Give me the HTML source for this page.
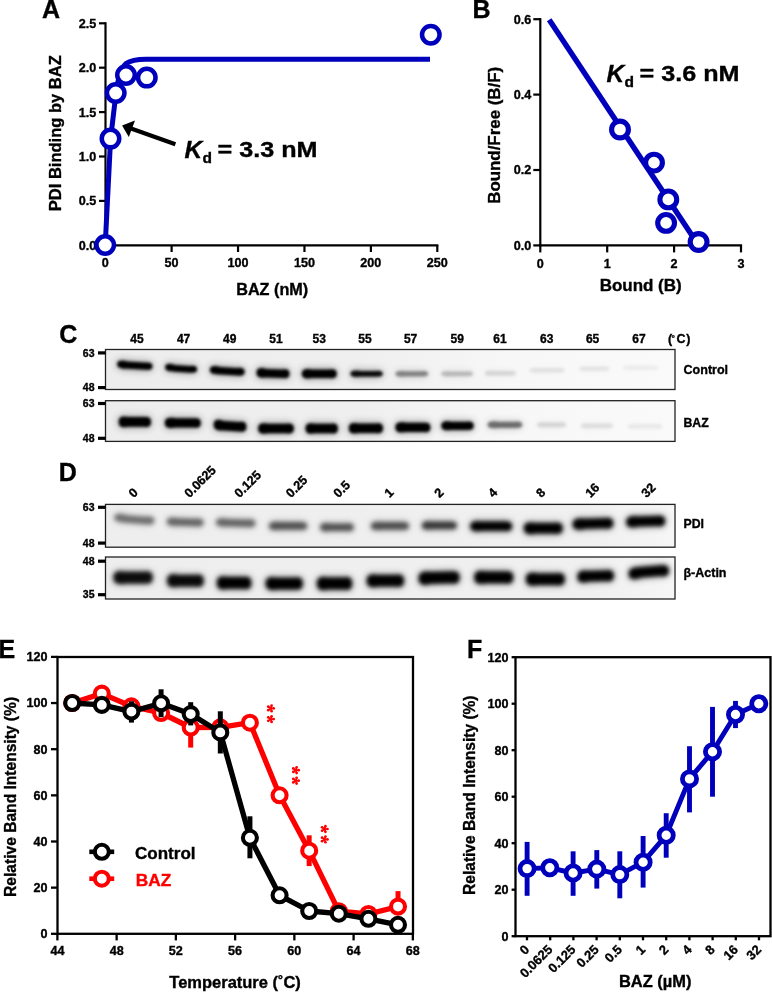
<!DOCTYPE html>
<html><head><meta charset="utf-8"><title>Figure</title>
<style>
html,body{margin:0;padding:0;background:#fff;}
svg{display:block;filter:blur(0.35px);font-family:"Liberation Sans", sans-serif;font-weight:bold;}
text{stroke:#000;stroke-width:0.35px;}
</style></head>
<body>
<svg width="772" height="992" viewBox="0 0 772 992">
<defs>
<filter id="b1" x="-20%" y="-50%" width="140%" height="200%"><feGaussianBlur stdDeviation="1.5"/></filter>
<filter id="b2" x="-20%" y="-60%" width="140%" height="220%"><feGaussianBlur stdDeviation="2.3"/></filter>
<filter id="b3" x="-30%" y="-150%" width="160%" height="400%"><feGaussianBlur stdDeviation="4"/></filter>
<linearGradient id="bgc" x1="0" y1="0" x2="1" y2="0"><stop offset="0" stop-color="#ededed"/><stop offset="0.45" stop-color="#efefef"/><stop offset="0.7" stop-color="#f7f7f7"/><stop offset="1" stop-color="#fafafa"/></linearGradient>
<linearGradient id="bgd" x1="0" y1="0" x2="1" y2="0"><stop offset="0" stop-color="#eeeeee"/><stop offset="0.85" stop-color="#f0f0f0"/><stop offset="1" stop-color="#f6f6f6"/></linearGradient>
</defs>
<rect width="772" height="992" fill="#fff"/>
<text x="42" y="17.6" font-size="25">A</text>
<line x1="105.5" y1="22.2" x2="105.5" y2="246.4" stroke="#000" stroke-width="2.2" stroke-linecap="butt"/>
<line x1="99" y1="245.3" x2="105.5" y2="245.3" stroke="#000" stroke-width="2.2" stroke-linecap="butt"/>
<text x="96.2" y="249.70000000000002" font-size="12.6" text-anchor="end">0.0</text>
<line x1="99" y1="200.9" x2="105.5" y2="200.9" stroke="#000" stroke-width="2.2" stroke-linecap="butt"/>
<text x="96.2" y="205.3" font-size="12.6" text-anchor="end">0.5</text>
<line x1="99" y1="156.5" x2="105.5" y2="156.5" stroke="#000" stroke-width="2.2" stroke-linecap="butt"/>
<text x="96.2" y="160.9" font-size="12.6" text-anchor="end">1.0</text>
<line x1="99" y1="112.10000000000002" x2="105.5" y2="112.10000000000002" stroke="#000" stroke-width="2.2" stroke-linecap="butt"/>
<text x="96.2" y="116.50000000000003" font-size="12.6" text-anchor="end">1.5</text>
<line x1="99" y1="67.70000000000002" x2="105.5" y2="67.70000000000002" stroke="#000" stroke-width="2.2" stroke-linecap="butt"/>
<text x="96.2" y="72.10000000000002" font-size="12.6" text-anchor="end">2.0</text>
<line x1="99" y1="23.30000000000001" x2="105.5" y2="23.30000000000001" stroke="#000" stroke-width="2.2" stroke-linecap="butt"/>
<text x="96.2" y="27.70000000000001" font-size="12.6" text-anchor="end">2.5</text>
<line x1="104.4" y1="245.3" x2="438.4" y2="245.3" stroke="#000" stroke-width="2.2" stroke-linecap="butt"/>
<line x1="105.2" y1="245.3" x2="105.2" y2="252" stroke="#000" stroke-width="2.2" stroke-linecap="butt"/>
<text x="105.2" y="266.6" font-size="12.6" text-anchor="middle">0</text>
<line x1="171.62" y1="245.3" x2="171.62" y2="252" stroke="#000" stroke-width="2.2" stroke-linecap="butt"/>
<text x="171.62" y="266.6" font-size="12.6" text-anchor="middle">50</text>
<line x1="238.04000000000002" y1="245.3" x2="238.04000000000002" y2="252" stroke="#000" stroke-width="2.2" stroke-linecap="butt"/>
<text x="238.04000000000002" y="266.6" font-size="12.6" text-anchor="middle">100</text>
<line x1="304.46" y1="245.3" x2="304.46" y2="252" stroke="#000" stroke-width="2.2" stroke-linecap="butt"/>
<text x="304.46" y="266.6" font-size="12.6" text-anchor="middle">150</text>
<line x1="370.88" y1="245.3" x2="370.88" y2="252" stroke="#000" stroke-width="2.2" stroke-linecap="butt"/>
<text x="370.88" y="266.6" font-size="12.6" text-anchor="middle">200</text>
<line x1="437.3" y1="245.3" x2="437.3" y2="252" stroke="#000" stroke-width="2.2" stroke-linecap="butt"/>
<text x="437.3" y="266.6" font-size="12.6" text-anchor="middle">250</text>
<text x="272.2" y="295.3" font-size="16" text-anchor="middle" textLength="72" lengthAdjust="spacingAndGlyphs">BAZ (nM)</text>
<text x="0" y="0" font-size="16" text-anchor="middle" textLength="156" lengthAdjust="spacingAndGlyphs" transform="translate(61.3,133.2) rotate(-90)">PDI Binding by BAZ</text>
<path d="M105.2,245.3 L110.6,138.6 L116,93 Q119,70 126,63.5 Q132,59.2 146,59.2 L430,59.2" fill="none" stroke="#0000bc" stroke-width="5" stroke-linejoin="round"/>
<circle cx="105.2" cy="245" r="8.75" fill="#fff" stroke="#0000bc" stroke-width="4.5"/>
<circle cx="110.5" cy="138.6" r="8.75" fill="#fff" stroke="#0000bc" stroke-width="4.5"/>
<circle cx="115.7" cy="93" r="8.75" fill="#fff" stroke="#0000bc" stroke-width="4.5"/>
<circle cx="126" cy="75" r="8.75" fill="#fff" stroke="#0000bc" stroke-width="4.5"/>
<circle cx="146.8" cy="77.6" r="8.75" fill="#fff" stroke="#0000bc" stroke-width="4.5"/>
<circle cx="430.8" cy="34.7" r="8.75" fill="#fff" stroke="#0000bc" stroke-width="4.5"/>
<line x1="175.4" y1="144.2" x2="131" y2="128.4" stroke="#000" stroke-width="4.2" stroke-linecap="butt"/>
<polygon points="122.1,125.5 135,120.4 128.8,136.9" fill="#000"/>
<text x="184.5" y="158.4" font-size="24.5" font-style="italic">K</text>
<text x="202.5" y="163.20000000000002" font-size="15.5">d</text>
<text x="217.5" y="157.4" font-size="22.5" textLength="100" lengthAdjust="spacingAndGlyphs">= 3.3 nM</text>
<text x="472.5" y="17.9" font-size="25">B</text>
<line x1="540.3" y1="18.1" x2="540.3" y2="246.5" stroke="#000" stroke-width="2.2" stroke-linecap="butt"/>
<line x1="533.3" y1="245.4" x2="540.3" y2="245.4" stroke="#000" stroke-width="2.2" stroke-linecap="butt"/>
<text x="531.3" y="249.8" font-size="12.6" text-anchor="end">0.0</text>
<line x1="533.3" y1="170.0" x2="540.3" y2="170.0" stroke="#000" stroke-width="2.2" stroke-linecap="butt"/>
<text x="531.3" y="174.4" font-size="12.6" text-anchor="end">0.2</text>
<line x1="533.3" y1="94.6" x2="540.3" y2="94.6" stroke="#000" stroke-width="2.2" stroke-linecap="butt"/>
<text x="531.3" y="99.0" font-size="12.6" text-anchor="end">0.4</text>
<line x1="533.3" y1="19.19999999999999" x2="540.3" y2="19.19999999999999" stroke="#000" stroke-width="2.2" stroke-linecap="butt"/>
<text x="531.3" y="23.599999999999987" font-size="12.6" text-anchor="end">0.6</text>
<line x1="539.2" y1="245.4" x2="742.1" y2="245.4" stroke="#000" stroke-width="2.2" stroke-linecap="butt"/>
<line x1="540.3" y1="245.4" x2="540.3" y2="252.4" stroke="#000" stroke-width="2.2" stroke-linecap="butt"/>
<text x="540.3" y="267.5" font-size="12.6" text-anchor="middle">0</text>
<line x1="607.1999999999999" y1="245.4" x2="607.1999999999999" y2="252.4" stroke="#000" stroke-width="2.2" stroke-linecap="butt"/>
<text x="607.1999999999999" y="267.5" font-size="12.6" text-anchor="middle">1</text>
<line x1="674.0999999999999" y1="245.4" x2="674.0999999999999" y2="252.4" stroke="#000" stroke-width="2.2" stroke-linecap="butt"/>
<text x="674.0999999999999" y="267.5" font-size="12.6" text-anchor="middle">2</text>
<line x1="741.0" y1="245.4" x2="741.0" y2="252.4" stroke="#000" stroke-width="2.2" stroke-linecap="butt"/>
<text x="741.0" y="267.5" font-size="12.6" text-anchor="middle">3</text>
<text x="640.7" y="291.4" font-size="16" text-anchor="middle" textLength="82" lengthAdjust="spacingAndGlyphs">Bound (B)</text>
<text x="0" y="0" font-size="16" text-anchor="middle" textLength="137" lengthAdjust="spacingAndGlyphs" transform="translate(499.5,135.3) rotate(-90)">Bound/Free (B/F)</text>
<line x1="549.2" y1="19.8" x2="697" y2="243" stroke="#0000bc" stroke-width="5.4" stroke-linecap="butt"/>
<circle cx="620" cy="129.5" r="8.4" fill="#fff" stroke="#0000bc" stroke-width="5.1"/>
<circle cx="654" cy="162.6" r="8.4" fill="#fff" stroke="#0000bc" stroke-width="5.1"/>
<circle cx="668.3" cy="199.4" r="8.4" fill="#fff" stroke="#0000bc" stroke-width="5.1"/>
<circle cx="666.1" cy="222.9" r="8.4" fill="#fff" stroke="#0000bc" stroke-width="5.1"/>
<circle cx="698.6" cy="242" r="8.4" fill="#fff" stroke="#0000bc" stroke-width="5.1"/>
<text x="606.5" y="81.7" font-size="24.5" font-style="italic">K</text>
<text x="624.5" y="86.5" font-size="15.5">d</text>
<text x="639.5" y="80.7" font-size="22.5" textLength="100" lengthAdjust="spacingAndGlyphs">= 3.6 nM</text>
<g>
<text x="59.2" y="342.6" font-size="25">C</text>
<text x="136.9" y="342.5" font-size="12" text-anchor="middle">45</text>
<text x="183.6" y="342.5" font-size="12" text-anchor="middle">47</text>
<text x="229.8" y="342.5" font-size="12" text-anchor="middle">49</text>
<text x="276" y="342.5" font-size="12" text-anchor="middle">51</text>
<text x="319.2" y="342.5" font-size="12" text-anchor="middle">53</text>
<text x="364.9" y="342.5" font-size="12" text-anchor="middle">55</text>
<text x="410.6" y="342.5" font-size="12" text-anchor="middle">57</text>
<text x="457.3" y="342.5" font-size="12" text-anchor="middle">59</text>
<text x="499.9" y="342.5" font-size="12" text-anchor="middle">61</text>
<text x="546.7" y="342.5" font-size="12" text-anchor="middle">63</text>
<text x="592.6" y="342.5" font-size="12" text-anchor="middle">65</text>
<text x="639" y="342.5" font-size="12" text-anchor="middle">67</text>
<text y="342.8" font-size="12.5"><tspan x="667.9">(</tspan><tspan x="671.6" font-size="8.5" dy="-2.2">°</tspan><tspan x="676.4" dy="2.2">C</tspan><tspan x="686.3">)</tspan></text>
<rect x="105.5" y="349.5" width="569.5" height="40.0" fill="url(#bgc)" stroke="#222" stroke-width="1.3"/>
<rect x="105.5" y="400.7" width="569.5" height="40.69999999999999" fill="url(#bgc)" stroke="#222" stroke-width="1.3"/>
<rect x="98" y="351.29999999999995" width="7.5" height="3.2" fill="#000"/>
<text x="94.5" y="356.5" font-size="10.5" text-anchor="end">63</text>
<rect x="98" y="386.0" width="7.5" height="3.2" fill="#000"/>
<text x="94.5" y="391.20000000000005" font-size="10.5" text-anchor="end">48</text>
<rect x="98" y="401.9" width="7.5" height="3.2" fill="#000"/>
<text x="94.5" y="407.1" font-size="10.5" text-anchor="end">63</text>
<rect x="98" y="436.7" width="7.5" height="3.2" fill="#000"/>
<text x="94.5" y="441.90000000000003" font-size="10.5" text-anchor="end">48</text>
<text x="683.5" y="373.9" font-size="12.5" textLength="44.6" lengthAdjust="spacingAndGlyphs">Control</text>
<text x="683.5" y="427" font-size="12.5" textLength="25.2" lengthAdjust="spacingAndGlyphs">BAZ</text>
<path d="M117.1,364.2 C117.1,359.8 122.4,359.8 127.7,361.6 L144.7,362.6 C150.0,362.1 152.5,362.9 152.5,366.2 C152.5,369.5 150.0,370.3 144.7,369.8 L127.7,368.8 C122.4,368.6 117.1,368.6 117.1,364.2 Z" fill="#000" opacity="0.450" filter="url(#b3)"/>
<path d="M117.1,364.2 C117.1,359.8 122.4,359.8 127.7,361.6 L144.7,362.6 C150.0,362.1 152.5,362.9 152.5,366.2 C152.5,369.5 150.0,370.3 144.7,369.8 L127.7,368.8 C122.4,368.6 117.1,368.6 117.1,364.2 Z" fill="#000" opacity="1.000" filter="url(#b1)"/>
<path d="M165.1,367.3 C165.1,363.2 169.9,363.2 174.7,364.9 L190.1,365.9 C194.9,365.4 197.1,366.2 197.1,369.3 C197.1,372.4 194.9,373.2 190.1,372.7 L174.7,371.7 C169.9,371.4 165.1,371.4 165.1,367.3 Z" fill="#000" opacity="0.450" filter="url(#b3)"/>
<path d="M165.1,367.3 C165.1,363.2 169.9,363.2 174.7,364.9 L190.1,365.9 C194.9,365.4 197.1,366.2 197.1,369.3 C197.1,372.4 194.9,373.2 190.1,372.7 L174.7,371.7 C169.9,371.4 165.1,371.4 165.1,367.3 Z" fill="#000" opacity="1.000" filter="url(#b1)"/>
<path d="M209.8,369.8 C209.8,365.2 215.0,365.2 220.3,367.0 L237.0,368.0 C242.3,367.4 244.7,368.3 244.7,371.8 C244.7,375.3 242.3,376.2 237.0,375.6 L220.3,374.6 C215.0,374.4 209.8,374.4 209.8,369.8 Z" fill="#000" opacity="0.450" filter="url(#b3)"/>
<path d="M209.8,369.8 C209.8,365.2 215.0,365.2 220.3,367.0 L237.0,368.0 C242.3,367.4 244.7,368.3 244.7,371.8 C244.7,375.3 242.3,376.2 237.0,375.6 L220.3,374.6 C215.0,374.4 209.8,374.4 209.8,369.8 Z" fill="#000" opacity="1.000" filter="url(#b1)"/>
<path d="M256.5,372.7 C256.5,367.5 261.4,367.5 266.4,368.9 L282.2,369.4 C287.2,368.8 289.5,369.7 289.5,373.7 C289.5,377.7 287.2,378.6 282.2,378.0 L266.4,377.5 C261.4,377.9 256.5,377.9 256.5,372.7 Z" fill="#000" opacity="0.450" filter="url(#b3)"/>
<path d="M256.5,372.7 C256.5,367.5 261.4,367.5 266.4,368.9 L282.2,369.4 C287.2,368.8 289.5,369.7 289.5,373.7 C289.5,377.7 287.2,378.6 282.2,378.0 L266.4,377.5 C261.4,377.9 256.5,377.9 256.5,372.7 Z" fill="#000" opacity="1.000" filter="url(#b1)"/>
<path d="M301.8,373.8 C301.8,368.6 307.1,368.6 312.3,369.5 L329.1,369.5 C334.4,368.9 336.8,369.8 336.8,373.8 C336.8,377.8 334.4,378.8 329.1,378.1 L312.3,378.1 C307.1,379.0 301.8,379.0 301.8,373.8 Z" fill="#000" opacity="0.450" filter="url(#b3)"/>
<path d="M301.8,373.8 C301.8,368.6 307.1,368.6 312.3,369.5 L329.1,369.5 C334.4,368.9 336.8,369.8 336.8,373.8 C336.8,377.8 334.4,378.8 329.1,378.1 L312.3,378.1 C307.1,379.0 301.8,379.0 301.8,373.8 Z" fill="#000" opacity="1.000" filter="url(#b1)"/>
<path d="M350.4,373.8 C350.4,370.3 355.3,370.3 360.1,370.9 L375.7,370.9 C380.5,370.5 382.8,371.2 382.8,373.8 C382.8,376.4 380.5,377.1 375.7,376.7 L360.1,376.7 C355.3,377.3 350.4,377.3 350.4,373.8 Z" fill="#000" opacity="0.427" filter="url(#b3)"/>
<path d="M350.4,373.8 C350.4,370.3 355.3,370.3 360.1,370.9 L375.7,370.9 C380.5,370.5 382.8,371.2 382.8,373.8 C382.8,376.4 380.5,377.1 375.7,376.7 L360.1,376.7 C355.3,377.3 350.4,377.3 350.4,373.8 Z" fill="#000" opacity="0.950" filter="url(#b1)"/>
<path d="M395.5,373.8 C395.5,370.6 400.4,370.6 405.3,371.2 L421.0,371.2 C425.9,370.8 428.2,371.4 428.2,373.8 C428.2,376.2 425.9,376.8 421.0,376.4 L405.3,376.4 C400.4,377.0 395.5,377.0 395.5,373.8 Z" fill="#000" opacity="0.189" filter="url(#b3)"/>
<path d="M395.5,373.8 C395.5,370.6 400.4,370.6 405.3,371.2 L421.0,371.2 C425.9,370.8 428.2,371.4 428.2,373.8 C428.2,376.2 425.9,376.8 421.0,376.4 L405.3,376.4 C400.4,377.0 395.5,377.0 395.5,373.8 Z" fill="#000" opacity="0.420" filter="url(#b1)"/>
<path d="M441.2,373.8 C441.2,370.9 446.0,370.9 450.7,371.4 L465.9,371.4 C470.7,371.1 472.9,371.6 472.9,373.8 C472.9,376.0 470.7,376.6 465.9,376.2 L450.7,376.2 C446.0,376.7 441.2,376.7 441.2,373.8 Z" fill="#000" opacity="0.099" filter="url(#b3)"/>
<path d="M441.2,373.8 C441.2,370.9 446.0,370.9 450.7,371.4 L465.9,371.4 C470.7,371.1 472.9,371.6 472.9,373.8 C472.9,376.0 470.7,376.6 465.9,376.2 L450.7,376.2 C446.0,376.7 441.2,376.7 441.2,373.8 Z" fill="#000" opacity="0.220" filter="url(#b1)"/>
<path d="M484.9,373.2 C484.9,370.6 489.6,370.6 494.2,371.0 L509.2,371.0 C513.8,370.7 516.0,371.2 516.0,373.2 C516.0,375.2 513.8,375.7 509.2,375.4 L494.2,375.4 C489.6,375.8 484.9,375.8 484.9,373.2 Z" fill="#000" opacity="0.054" filter="url(#b3)"/>
<path d="M484.9,373.2 C484.9,370.6 489.6,370.6 494.2,371.0 L509.2,371.0 C513.8,370.7 516.0,371.2 516.0,373.2 C516.0,375.2 513.8,375.7 509.2,375.4 L494.2,375.4 C489.6,375.8 484.9,375.8 484.9,373.2 Z" fill="#000" opacity="0.120" filter="url(#b1)"/>
<path d="M529.3,370.3 C529.3,367.7 534.6,367.7 539.9,368.1 L556.8,368.1 C562.1,367.8 564.6,368.3 564.6,370.3 C564.6,372.3 562.1,372.8 556.8,372.5 L539.9,372.5 C534.6,372.9 529.3,372.9 529.3,370.3 Z" fill="#000" opacity="0.036" filter="url(#b3)"/>
<path d="M529.3,370.3 C529.3,367.7 534.6,367.7 539.9,368.1 L556.8,368.1 C562.1,367.8 564.6,368.3 564.6,370.3 C564.6,372.3 562.1,372.8 556.8,372.5 L539.9,372.5 C534.6,372.9 529.3,372.9 529.3,370.3 Z" fill="#000" opacity="0.080" filter="url(#b1)"/>
<path d="M579.0,368.8 C579.0,366.2 583.6,366.2 588.1,366.6 L602.8,366.6 C607.4,366.3 609.5,366.8 609.5,368.8 C609.5,370.8 607.4,371.3 602.8,371.0 L588.1,371.0 C583.6,371.4 579.0,371.4 579.0,368.8 Z" fill="#000" opacity="0.032" filter="url(#b3)"/>
<path d="M579.0,368.8 C579.0,366.2 583.6,366.2 588.1,366.6 L602.8,366.6 C607.4,366.3 609.5,366.8 609.5,368.8 C609.5,370.8 607.4,371.3 602.8,371.0 L588.1,371.0 C583.6,371.4 579.0,371.4 579.0,368.8 Z" fill="#000" opacity="0.070" filter="url(#b1)"/>
<path d="M622.6,367.8 C622.6,365.2 628.0,365.2 633.5,365.6 L650.9,365.6 C656.4,365.3 658.9,365.8 658.9,367.8 C658.9,369.8 656.4,370.3 650.9,370.0 L633.5,370.0 C628.0,370.4 622.6,370.4 622.6,367.8 Z" fill="#000" opacity="0.020" filter="url(#b3)"/>
<path d="M622.6,367.8 C622.6,365.2 628.0,365.2 633.5,365.6 L650.9,365.6 C656.4,365.3 658.9,365.8 658.9,367.8 C658.9,369.8 656.4,370.3 650.9,370.0 L633.5,370.0 C628.0,370.4 622.6,370.4 622.6,367.8 Z" fill="#000" opacity="0.045" filter="url(#b1)"/>
<path d="M118.7,421.9 C118.7,416.1 123.5,416.1 128.4,417.1 L143.9,417.1 C148.7,416.4 151.0,417.5 151.0,421.9 C151.0,426.3 148.7,427.4 143.9,426.7 L128.4,426.7 C123.5,427.7 118.7,427.7 118.7,421.9 Z" fill="#000" opacity="0.450" filter="url(#b3)"/>
<path d="M118.7,421.9 C118.7,416.1 123.5,416.1 128.4,417.1 L143.9,417.1 C148.7,416.4 151.0,417.5 151.0,421.9 C151.0,426.3 148.7,427.4 143.9,426.7 L128.4,426.7 C123.5,427.7 118.7,427.7 118.7,421.9 Z" fill="#000" opacity="1.000" filter="url(#b1)"/>
<path d="M164.8,422.9 C164.8,417.4 170.2,417.4 175.6,418.3 L192.9,418.3 C198.3,417.7 200.8,418.7 200.8,422.9 C200.8,427.1 198.3,428.1 192.9,427.5 L175.6,427.5 C170.2,428.4 164.8,428.4 164.8,422.9 Z" fill="#000" opacity="0.450" filter="url(#b3)"/>
<path d="M164.8,422.9 C164.8,417.4 170.2,417.4 175.6,418.3 L192.9,418.3 C198.3,417.7 200.8,418.7 200.8,422.9 C200.8,427.1 198.3,428.1 192.9,427.5 L175.6,427.5 C170.2,428.4 164.8,428.4 164.8,422.9 Z" fill="#000" opacity="1.000" filter="url(#b1)"/>
<path d="M213.7,424.8 C213.7,419.0 218.6,419.0 223.5,421.0 L239.2,422.0 C244.1,421.3 246.4,422.4 246.4,426.8 C246.4,431.2 244.1,432.3 239.2,431.6 L223.5,430.6 C218.6,430.6 213.7,430.6 213.7,424.8 Z" fill="#000" opacity="0.450" filter="url(#b3)"/>
<path d="M213.7,424.8 C213.7,419.0 218.6,419.0 223.5,421.0 L239.2,422.0 C244.1,421.3 246.4,422.4 246.4,426.8 C246.4,431.2 244.1,432.3 239.2,431.6 L223.5,430.6 C218.6,430.6 213.7,430.6 213.7,424.8 Z" fill="#000" opacity="1.000" filter="url(#b1)"/>
<path d="M258.1,428.5 C258.1,422.7 263.5,422.7 268.8,423.7 L286.0,423.7 C291.4,423.0 293.9,424.1 293.9,428.5 C293.9,432.9 291.4,434.0 286.0,433.3 L268.8,433.3 C263.5,434.3 258.1,434.3 258.1,428.5 Z" fill="#000" opacity="0.450" filter="url(#b3)"/>
<path d="M258.1,428.5 C258.1,422.7 263.5,422.7 268.8,423.7 L286.0,423.7 C291.4,423.0 293.9,424.1 293.9,428.5 C293.9,432.9 291.4,434.0 286.0,433.3 L268.8,433.3 C263.5,434.3 258.1,434.3 258.1,428.5 Z" fill="#000" opacity="1.000" filter="url(#b1)"/>
<path d="M305.5,428.5 C305.5,422.7 310.4,422.7 315.2,423.7 L330.8,423.7 C335.6,423.0 337.9,424.1 337.9,428.5 C337.9,432.9 335.6,434.0 330.8,433.3 L315.2,433.3 C310.4,434.3 305.5,434.3 305.5,428.5 Z" fill="#000" opacity="0.450" filter="url(#b3)"/>
<path d="M305.5,428.5 C305.5,422.7 310.4,422.7 315.2,423.7 L330.8,423.7 C335.6,423.0 337.9,424.1 337.9,428.5 C337.9,432.9 335.6,434.0 330.8,433.3 L315.2,433.3 C310.4,434.3 305.5,434.3 305.5,428.5 Z" fill="#000" opacity="1.000" filter="url(#b1)"/>
<path d="M348.8,428.2 C348.8,422.4 353.9,422.4 359.1,423.4 L375.5,423.4 C380.6,422.7 383.0,423.8 383.0,428.2 C383.0,432.6 380.6,433.7 375.5,433.0 L359.1,433.0 C353.9,434.0 348.8,434.0 348.8,428.2 Z" fill="#000" opacity="0.450" filter="url(#b3)"/>
<path d="M348.8,428.2 C348.8,422.4 353.9,422.4 359.1,423.4 L375.5,423.4 C380.6,422.7 383.0,423.8 383.0,428.2 C383.0,432.6 380.6,433.7 375.5,433.0 L359.1,433.0 C353.9,434.0 348.8,434.0 348.8,428.2 Z" fill="#000" opacity="1.000" filter="url(#b1)"/>
<path d="M395.4,427.4 C395.4,421.9 400.6,421.9 405.9,422.8 L422.7,422.8 C427.9,422.2 430.4,423.2 430.4,427.4 C430.4,431.6 427.9,432.6 422.7,432.0 L405.9,432.0 C400.6,432.9 395.4,432.9 395.4,427.4 Z" fill="#000" opacity="0.450" filter="url(#b3)"/>
<path d="M395.4,427.4 C395.4,421.9 400.6,421.9 405.9,422.8 L422.7,422.8 C427.9,422.2 430.4,423.2 430.4,427.4 C430.4,431.6 427.9,432.6 422.7,432.0 L405.9,432.0 C400.6,432.9 395.4,432.9 395.4,427.4 Z" fill="#000" opacity="1.000" filter="url(#b1)"/>
<path d="M441.3,425.8 C441.3,420.9 446.2,420.9 451.0,421.7 L466.6,421.7 C471.4,421.1 473.7,422.1 473.7,425.8 C473.7,429.5 471.4,430.5 466.6,429.9 L451.0,429.9 C446.2,430.7 441.3,430.7 441.3,425.8 Z" fill="#000" opacity="0.450" filter="url(#b3)"/>
<path d="M441.3,425.8 C441.3,420.9 446.2,420.9 451.0,421.7 L466.6,421.7 C471.4,421.1 473.7,422.1 473.7,425.8 C473.7,429.5 471.4,430.5 466.6,429.9 L451.0,429.9 C446.2,430.7 441.3,430.7 441.3,425.8 Z" fill="#000" opacity="1.000" filter="url(#b1)"/>
<path d="M487.6,424.8 C487.6,421.0 492.8,421.0 498.0,421.7 L514.7,421.7 C519.9,421.2 522.3,421.9 522.3,424.8 C522.3,427.7 519.9,428.4 514.7,427.9 L498.0,427.9 C492.8,428.6 487.6,428.6 487.6,424.8 Z" fill="#000" opacity="0.225" filter="url(#b3)"/>
<path d="M487.6,424.8 C487.6,421.0 492.8,421.0 498.0,421.7 L514.7,421.7 C519.9,421.2 522.3,421.9 522.3,424.8 C522.3,427.7 519.9,428.4 514.7,427.9 L498.0,427.9 C492.8,428.6 487.6,428.6 487.6,424.8 Z" fill="#000" opacity="0.500" filter="url(#b1)"/>
<path d="M536.9,424.8 C536.9,421.9 541.3,421.9 545.6,422.4 L559.6,422.4 C564.0,422.1 566.0,422.6 566.0,424.8 C566.0,427.0 564.0,427.6 559.6,427.2 L545.6,427.2 C541.3,427.7 536.9,427.7 536.9,424.8 Z" fill="#000" opacity="0.054" filter="url(#b3)"/>
<path d="M536.9,424.8 C536.9,421.9 541.3,421.9 545.6,422.4 L559.6,422.4 C564.0,422.1 566.0,422.6 566.0,424.8 C566.0,427.0 564.0,427.6 559.6,427.2 L545.6,427.2 C541.3,427.7 536.9,427.7 536.9,424.8 Z" fill="#000" opacity="0.120" filter="url(#b1)"/>
<path d="M580.6,425.8 C580.6,422.9 585.5,422.9 590.3,423.4 L605.9,423.4 C610.7,423.1 613.0,423.6 613.0,425.8 C613.0,428.0 610.7,428.6 605.9,428.2 L590.3,428.2 C585.5,428.7 580.6,428.7 580.6,425.8 Z" fill="#000" opacity="0.041" filter="url(#b3)"/>
<path d="M580.6,425.8 C580.6,422.9 585.5,422.9 590.3,423.4 L605.9,423.4 C610.7,423.1 613.0,423.6 613.0,425.8 C613.0,428.0 610.7,428.6 605.9,428.2 L590.3,428.2 C585.5,428.7 580.6,428.7 580.6,425.8 Z" fill="#000" opacity="0.090" filter="url(#b1)"/>
<path d="M627.5,426.4 C627.5,423.8 632.8,423.8 638.0,424.2 L654.8,424.2 C660.0,423.9 662.5,424.4 662.5,426.4 C662.5,428.4 660.0,428.9 654.8,428.6 L638.0,428.6 C632.8,429.0 627.5,429.0 627.5,426.4 Z" fill="#000" opacity="0.027" filter="url(#b3)"/>
<path d="M627.5,426.4 C627.5,423.8 632.8,423.8 638.0,424.2 L654.8,424.2 C660.0,423.9 662.5,424.4 662.5,426.4 C662.5,428.4 660.0,428.9 654.8,428.6 L638.0,428.6 C632.8,429.0 627.5,429.0 627.5,426.4 Z" fill="#000" opacity="0.060" filter="url(#b1)"/>
<text x="58.8" y="480.7" font-size="25">D</text>
<text x="133.7" y="498.2" font-size="12.6" transform="rotate(-45 133.7 498.2)">0</text>
<text x="189.5" y="498.2" font-size="12.6" transform="rotate(-45 189.5 498.2)">0.0625</text>
<text x="239.6" y="498.2" font-size="12.6" transform="rotate(-45 239.6 498.2)">0.125</text>
<text x="291" y="498.2" font-size="12.6" transform="rotate(-45 291 498.2)">0.25</text>
<text x="338.5" y="498.2" font-size="12.6" transform="rotate(-45 338.5 498.2)">0.5</text>
<text x="389.6" y="498.2" font-size="12.6" transform="rotate(-45 389.6 498.2)">1</text>
<text x="439.4" y="498.2" font-size="12.6" transform="rotate(-45 439.4 498.2)">2</text>
<text x="493.2" y="498.2" font-size="12.6" transform="rotate(-45 493.2 498.2)">4</text>
<text x="541.2" y="498.2" font-size="12.6" transform="rotate(-45 541.2 498.2)">8</text>
<text x="590.4" y="498.2" font-size="12.6" transform="rotate(-45 590.4 498.2)">16</text>
<text x="646.5" y="498.2" font-size="12.6" transform="rotate(-45 646.5 498.2)">32</text>
<rect x="105.5" y="504.4" width="569.5" height="42.80000000000007" fill="url(#bgd)" stroke="#222" stroke-width="1.3"/>
<rect x="105.5" y="557" width="569.5" height="42" fill="url(#bgd)" stroke="#222" stroke-width="1.3"/>
<rect x="98" y="505.7" width="7.5" height="3.2" fill="#000"/>
<text x="94.5" y="510.90000000000003" font-size="10.5" text-anchor="end">63</text>
<rect x="98" y="541.5" width="7.5" height="3.2" fill="#000"/>
<text x="94.5" y="546.7" font-size="10.5" text-anchor="end">48</text>
<rect x="98" y="559.6" width="7.5" height="3.2" fill="#000"/>
<text x="94.5" y="564.8000000000001" font-size="10.5" text-anchor="end">48</text>
<rect x="98" y="593.1" width="7.5" height="3.2" fill="#000"/>
<text x="94.5" y="598.3000000000001" font-size="10.5" text-anchor="end">35</text>
<text x="683.5" y="528.4" font-size="12.5" textLength="20.5" lengthAdjust="spacingAndGlyphs">PDI</text>
<text x="683.5" y="576.9" font-size="12.5" textLength="43" lengthAdjust="spacingAndGlyphs">β-Actin</text>
<path d="M114.2,517.5 C114.2,512.9 120.2,512.9 126.3,515.2 L145.6,516.7 C151.6,516.1 154.4,517.0 154.4,520.5 C154.4,524.0 151.6,524.9 145.6,524.3 L126.3,522.8 C120.2,522.1 114.2,522.1 114.2,517.5 Z" fill="#000" opacity="0.207" filter="url(#b3)"/>
<path d="M114.2,517.5 C114.2,512.9 120.2,512.9 126.3,515.2 L145.6,516.7 C151.6,516.1 154.4,517.0 154.4,520.5 C154.4,524.0 151.6,524.9 145.6,524.3 L126.3,522.8 C120.2,522.1 114.2,522.1 114.2,517.5 Z" fill="#000" opacity="0.460" filter="url(#b2)"/>
<path d="M166.8,521.5 C166.8,516.9 172.3,516.9 177.8,518.2 L195.5,518.7 C201.0,518.1 203.6,519.0 203.6,522.5 C203.6,526.0 201.0,526.9 195.5,526.3 L177.8,525.8 C172.3,526.1 166.8,526.1 166.8,521.5 Z" fill="#000" opacity="0.225" filter="url(#b3)"/>
<path d="M166.8,521.5 C166.8,516.9 172.3,516.9 177.8,518.2 L195.5,518.7 C201.0,518.1 203.6,519.0 203.6,522.5 C203.6,526.0 201.0,526.9 195.5,526.3 L177.8,525.8 C172.3,526.1 166.8,526.1 166.8,521.5 Z" fill="#000" opacity="0.500" filter="url(#b2)"/>
<path d="M216.0,522.3 C216.0,517.7 221.9,517.7 227.8,519.0 L246.7,519.5 C252.6,518.9 255.4,519.8 255.4,523.3 C255.4,526.8 252.6,527.7 246.7,527.1 L227.8,526.6 C221.9,526.9 216.0,526.9 216.0,522.3 Z" fill="#000" opacity="0.225" filter="url(#b3)"/>
<path d="M216.0,522.3 C216.0,517.7 221.9,517.7 227.8,519.0 L246.7,519.5 C252.6,518.9 255.4,519.8 255.4,523.3 C255.4,526.8 252.6,527.7 246.7,527.1 L227.8,526.6 C221.9,526.9 216.0,526.9 216.0,522.3 Z" fill="#000" opacity="0.500" filter="url(#b2)"/>
<path d="M269.0,525.9 C269.0,521.3 274.7,521.3 280.5,522.1 L298.8,522.1 C304.5,521.5 307.2,522.4 307.2,525.9 C307.2,529.4 304.5,530.3 298.8,529.7 L280.5,529.7 C274.7,530.5 269.0,530.5 269.0,525.9 Z" fill="#000" opacity="0.261" filter="url(#b3)"/>
<path d="M269.0,525.9 C269.0,521.3 274.7,521.3 280.5,522.1 L298.8,522.1 C304.5,521.5 307.2,522.4 307.2,525.9 C307.2,529.4 304.5,530.3 298.8,529.7 L280.5,529.7 C274.7,530.5 269.0,530.5 269.0,525.9 Z" fill="#000" opacity="0.580" filter="url(#b2)"/>
<path d="M320.1,527.2 C320.1,522.6 325.2,522.6 330.2,523.4 L346.4,523.4 C351.4,522.8 353.8,523.7 353.8,527.2 C353.8,530.7 351.4,531.6 346.4,531.0 L330.2,531.0 C325.2,531.8 320.1,531.8 320.1,527.2 Z" fill="#000" opacity="0.261" filter="url(#b3)"/>
<path d="M320.1,527.2 C320.1,522.6 325.2,522.6 330.2,523.4 L346.4,523.4 C351.4,522.8 353.8,523.7 353.8,527.2 C353.8,530.7 351.4,531.6 346.4,531.0 L330.2,531.0 C325.2,531.8 320.1,531.8 320.1,527.2 Z" fill="#000" opacity="0.580" filter="url(#b2)"/>
<path d="M370.9,525.9 C370.9,521.3 376.6,521.3 382.3,522.1 L400.6,522.1 C406.3,521.5 409.0,522.4 409.0,525.9 C409.0,529.4 406.3,530.3 400.6,529.7 L382.3,529.7 C376.6,530.5 370.9,530.5 370.9,525.9 Z" fill="#000" opacity="0.270" filter="url(#b3)"/>
<path d="M370.9,525.9 C370.9,521.3 376.6,521.3 382.3,522.1 L400.6,522.1 C406.3,521.5 409.0,522.4 409.0,525.9 C409.0,529.4 406.3,530.3 400.6,529.7 L382.3,529.7 C376.6,530.5 370.9,530.5 370.9,525.9 Z" fill="#000" opacity="0.600" filter="url(#b2)"/>
<path d="M421.9,525.4 C421.9,520.8 427.1,520.8 432.4,521.6 L449.2,521.6 C454.4,521.0 456.9,521.9 456.9,525.4 C456.9,528.9 454.4,529.8 449.2,529.2 L432.4,529.2 C427.1,530.0 421.9,530.0 421.9,525.4 Z" fill="#000" opacity="0.315" filter="url(#b3)"/>
<path d="M421.9,525.4 C421.9,520.8 427.1,520.8 432.4,521.6 L449.2,521.6 C454.4,521.0 456.9,521.9 456.9,525.4 C456.9,528.9 454.4,529.8 449.2,529.2 L432.4,529.2 C427.1,530.0 421.9,530.0 421.9,525.4 Z" fill="#000" opacity="0.700" filter="url(#b2)"/>
<path d="M470.3,526.2 C470.3,520.7 476.6,520.7 482.8,521.6 L502.8,521.6 C509.1,521.0 512.0,522.0 512.0,526.2 C512.0,530.4 509.1,531.4 502.8,530.8 L482.8,530.8 C476.6,531.7 470.3,531.7 470.3,526.2 Z" fill="#000" opacity="0.450" filter="url(#b3)"/>
<path d="M470.3,526.2 C470.3,520.7 476.6,520.7 482.8,521.6 L502.8,521.6 C509.1,521.0 512.0,522.0 512.0,526.2 C512.0,530.4 509.1,531.4 502.8,530.8 L482.8,530.8 C476.6,531.7 470.3,531.7 470.3,526.2 Z" fill="#000" opacity="1.000" filter="url(#b2)"/>
<path d="M523.9,528.3 C523.9,521.9 529.7,521.9 535.5,523.0 L554.1,523.0 C559.9,522.2 562.6,523.5 562.6,528.3 C562.6,533.1 559.9,534.3 554.1,533.6 L535.5,533.6 C529.7,534.7 523.9,534.7 523.9,528.3 Z" fill="#000" opacity="0.450" filter="url(#b3)"/>
<path d="M523.9,528.3 C523.9,521.9 529.7,521.9 535.5,523.0 L554.1,523.0 C559.9,522.2 562.6,523.5 562.6,528.3 C562.6,533.1 559.9,534.3 554.1,533.6 L535.5,533.6 C529.7,534.7 523.9,534.7 523.9,528.3 Z" fill="#000" opacity="1.000" filter="url(#b2)"/>
<path d="M572.7,524.3 C572.7,518.2 578.8,518.2 584.9,518.8 L604.3,518.3 C610.4,517.5 613.2,518.7 613.2,523.3 C613.2,527.9 610.4,529.1 604.3,528.3 L584.9,528.8 C578.8,530.4 572.7,530.4 572.7,524.3 Z" fill="#000" opacity="0.450" filter="url(#b3)"/>
<path d="M572.7,524.3 C572.7,518.2 578.8,518.2 584.9,518.8 L604.3,518.3 C610.4,517.5 613.2,518.7 613.2,523.3 C613.2,527.9 610.4,529.1 604.3,528.3 L584.9,528.8 C578.8,530.4 572.7,530.4 572.7,524.3 Z" fill="#000" opacity="1.000" filter="url(#b2)"/>
<path d="M626.3,521.9 C626.3,515.8 632.1,515.8 637.9,516.4 L656.6,515.9 C662.4,515.1 665.1,516.3 665.1,520.9 C665.1,525.5 662.4,526.7 656.6,525.9 L637.9,526.4 C632.1,528.0 626.3,528.0 626.3,521.9 Z" fill="#000" opacity="0.450" filter="url(#b3)"/>
<path d="M626.3,521.9 C626.3,515.8 632.1,515.8 637.9,516.4 L656.6,515.9 C662.4,515.1 665.1,516.3 665.1,520.9 C665.1,525.5 662.4,526.7 656.6,525.9 L637.9,526.4 C632.1,528.0 626.3,528.0 626.3,521.9 Z" fill="#000" opacity="1.000" filter="url(#b2)"/>
<path d="M113.5,577.6 C113.5,570.6 119.4,570.6 125.2,571.8 L144.0,571.8 C149.9,571.0 152.6,572.3 152.6,577.6 C152.6,582.9 149.9,584.2 144.0,583.4 L125.2,583.4 C119.4,584.6 113.5,584.6 113.5,577.6 Z" fill="#000" opacity="0.414" filter="url(#b3)"/>
<path d="M113.5,577.6 C113.5,570.6 119.4,570.6 125.2,571.8 L144.0,571.8 C149.9,571.0 152.6,572.3 152.6,577.6 C152.6,582.9 149.9,584.2 144.0,583.4 L125.2,583.4 C119.4,584.6 113.5,584.6 113.5,577.6 Z" fill="#000" opacity="0.920" filter="url(#b2)"/>
<path d="M167.2,580.7 C167.2,573.7 172.7,573.7 178.1,574.9 L195.6,574.9 C201.1,574.1 203.6,575.4 203.6,580.7 C203.6,586.0 201.1,587.3 195.6,586.5 L178.1,586.5 C172.7,587.7 167.2,587.7 167.2,580.7 Z" fill="#000" opacity="0.427" filter="url(#b3)"/>
<path d="M167.2,580.7 C167.2,573.7 172.7,573.7 178.1,574.9 L195.6,574.9 C201.1,574.1 203.6,575.4 203.6,580.7 C203.6,586.0 201.1,587.3 195.6,586.5 L178.1,586.5 C172.7,587.7 167.2,587.7 167.2,580.7 Z" fill="#000" opacity="0.950" filter="url(#b2)"/>
<path d="M217.0,582.9 C217.0,575.9 222.1,575.9 227.3,577.1 L243.7,577.1 C248.8,576.3 251.2,577.6 251.2,582.9 C251.2,588.2 248.8,589.5 243.7,588.7 L227.3,588.7 C222.1,589.9 217.0,589.9 217.0,582.9 Z" fill="#000" opacity="0.450" filter="url(#b3)"/>
<path d="M217.0,582.9 C217.0,575.9 222.1,575.9 227.3,577.1 L243.7,577.1 C248.8,576.3 251.2,577.6 251.2,582.9 C251.2,588.2 248.8,589.5 243.7,588.7 L227.3,588.7 C222.1,589.9 217.0,589.9 217.0,582.9 Z" fill="#000" opacity="1.000" filter="url(#b2)"/>
<path d="M265.7,583.6 C265.7,576.6 271.2,576.6 276.8,577.8 L294.6,577.8 C300.1,577.0 302.7,578.3 302.7,583.6 C302.7,588.9 300.1,590.2 294.6,589.4 L276.8,589.4 C271.2,590.6 265.7,590.6 265.7,583.6 Z" fill="#000" opacity="0.450" filter="url(#b3)"/>
<path d="M265.7,583.6 C265.7,576.6 271.2,576.6 276.8,577.8 L294.6,577.8 C300.1,577.0 302.7,578.3 302.7,583.6 C302.7,588.9 300.1,590.2 294.6,589.4 L276.8,589.4 C271.2,590.6 265.7,590.6 265.7,583.6 Z" fill="#000" opacity="1.000" filter="url(#b2)"/>
<path d="M317.0,583.6 C317.0,576.4 322.2,576.4 327.5,577.6 L344.3,577.6 C349.6,576.7 352.0,578.1 352.0,583.6 C352.0,589.1 349.6,590.5 344.3,589.6 L327.5,589.6 C322.2,590.9 317.0,590.9 317.0,583.6 Z" fill="#000" opacity="0.450" filter="url(#b3)"/>
<path d="M317.0,583.6 C317.0,576.4 322.2,576.4 327.5,577.6 L344.3,577.6 C349.6,576.7 352.0,578.1 352.0,583.6 C352.0,589.1 349.6,590.5 344.3,589.6 L327.5,589.6 C322.2,590.9 317.0,590.9 317.0,583.6 Z" fill="#000" opacity="1.000" filter="url(#b2)"/>
<path d="M366.8,580.8 C366.8,573.8 372.4,573.8 377.9,575.0 L395.7,575.0 C401.3,574.2 403.9,575.5 403.9,580.8 C403.9,586.1 401.3,587.4 395.7,586.6 L377.9,586.6 C372.4,587.8 366.8,587.8 366.8,580.8 Z" fill="#000" opacity="0.450" filter="url(#b3)"/>
<path d="M366.8,580.8 C366.8,573.8 372.4,573.8 377.9,575.0 L395.7,575.0 C401.3,574.2 403.9,575.5 403.9,580.8 C403.9,586.1 401.3,587.4 395.7,586.6 L377.9,586.6 C372.4,587.8 366.8,587.8 366.8,580.8 Z" fill="#000" opacity="1.000" filter="url(#b2)"/>
<path d="M418.7,578.4 C418.7,571.4 424.8,571.4 430.9,572.1 L450.5,571.6 C456.6,570.8 459.5,572.1 459.5,577.4 C459.5,582.7 456.6,584.0 450.5,583.2 L430.9,583.7 C424.8,585.4 418.7,585.4 418.7,578.4 Z" fill="#000" opacity="0.450" filter="url(#b3)"/>
<path d="M418.7,578.4 C418.7,571.4 424.8,571.4 430.9,572.1 L450.5,571.6 C456.6,570.8 459.5,572.1 459.5,577.4 C459.5,582.7 456.6,584.0 450.5,583.2 L430.9,583.7 C424.8,585.4 418.7,585.4 418.7,578.4 Z" fill="#000" opacity="1.000" filter="url(#b2)"/>
<path d="M474.4,577.4 C474.4,570.4 480.2,570.4 486.0,571.6 L504.7,571.6 C510.5,570.8 513.2,572.1 513.2,577.4 C513.2,582.7 510.5,584.0 504.7,583.2 L486.0,583.2 C480.2,584.4 474.4,584.4 474.4,577.4 Z" fill="#000" opacity="0.450" filter="url(#b3)"/>
<path d="M474.4,577.4 C474.4,570.4 480.2,570.4 486.0,571.6 L504.7,571.6 C510.5,570.8 513.2,572.1 513.2,577.4 C513.2,582.7 510.5,584.0 504.7,583.2 L486.0,583.2 C480.2,584.4 474.4,584.4 474.4,577.4 Z" fill="#000" opacity="1.000" filter="url(#b2)"/>
<path d="M526.0,579.2 C526.0,572.2 531.8,572.2 537.6,573.4 L556.2,573.4 C562.0,572.6 564.7,573.9 564.7,579.2 C564.7,584.5 562.0,585.8 556.2,585.0 L537.6,585.0 C531.8,586.2 526.0,586.2 526.0,579.2 Z" fill="#000" opacity="0.450" filter="url(#b3)"/>
<path d="M526.0,579.2 C526.0,572.2 531.8,572.2 537.6,573.4 L556.2,573.4 C562.0,572.6 564.7,573.9 564.7,579.2 C564.7,584.5 562.0,585.8 556.2,585.0 L537.6,585.0 C531.8,586.2 526.0,586.2 526.0,579.2 Z" fill="#000" opacity="1.000" filter="url(#b2)"/>
<path d="M577.5,576.7 C577.5,570.3 582.9,570.3 588.4,570.9 L605.8,570.4 C611.3,569.7 613.8,570.9 613.8,575.7 C613.8,580.5 611.3,581.8 605.8,581.0 L588.4,581.5 C582.9,583.1 577.5,583.1 577.5,576.7 Z" fill="#000" opacity="0.450" filter="url(#b3)"/>
<path d="M577.5,576.7 C577.5,570.3 582.9,570.3 588.4,570.9 L605.8,570.4 C611.3,569.7 613.8,570.9 613.8,575.7 C613.8,580.5 611.3,581.8 605.8,581.0 L588.4,581.5 C582.9,583.1 577.5,583.1 577.5,576.7 Z" fill="#000" opacity="1.000" filter="url(#b2)"/>
<path d="M628.7,573.8 C628.7,567.4 634.7,567.4 640.8,567.0 L660.1,565.5 C666.1,564.8 668.9,566.0 668.9,570.8 C668.9,575.6 666.1,576.8 660.1,576.1 L640.8,577.6 C634.7,580.2 628.7,580.2 628.7,573.8 Z" fill="#000" opacity="0.450" filter="url(#b3)"/>
<path d="M628.7,573.8 C628.7,567.4 634.7,567.4 640.8,567.0 L660.1,565.5 C666.1,564.8 668.9,566.0 668.9,570.8 C668.9,575.6 666.1,576.8 660.1,576.1 L640.8,577.6 C634.7,580.2 628.7,580.2 628.7,573.8 Z" fill="#000" opacity="1.000" filter="url(#b2)"/>
</g>
<text x="-1.5" y="657.8" font-size="25">E</text>
<rect x="57.5" y="657" width="355.5" height="276.8" fill="none" stroke="#000" stroke-width="2.3"/>
<line x1="51" y1="933.8" x2="57.5" y2="933.8" stroke="#000" stroke-width="2.3" stroke-linecap="butt"/>
<text x="47.5" y="938.1999999999999" font-size="12.6" text-anchor="end">0</text>
<line x1="51" y1="887.65" x2="57.5" y2="887.65" stroke="#000" stroke-width="2.3" stroke-linecap="butt"/>
<text x="47.5" y="892.05" font-size="12.6" text-anchor="end">20</text>
<line x1="51" y1="841.5" x2="57.5" y2="841.5" stroke="#000" stroke-width="2.3" stroke-linecap="butt"/>
<text x="47.5" y="845.9" font-size="12.6" text-anchor="end">40</text>
<line x1="51" y1="795.3499999999999" x2="57.5" y2="795.3499999999999" stroke="#000" stroke-width="2.3" stroke-linecap="butt"/>
<text x="47.5" y="799.7499999999999" font-size="12.6" text-anchor="end">60</text>
<line x1="51" y1="749.1999999999999" x2="57.5" y2="749.1999999999999" stroke="#000" stroke-width="2.3" stroke-linecap="butt"/>
<text x="47.5" y="753.5999999999999" font-size="12.6" text-anchor="end">80</text>
<line x1="51" y1="703.05" x2="57.5" y2="703.05" stroke="#000" stroke-width="2.3" stroke-linecap="butt"/>
<text x="47.5" y="707.4499999999999" font-size="12.6" text-anchor="end">100</text>
<line x1="51" y1="656.8999999999999" x2="57.5" y2="656.8999999999999" stroke="#000" stroke-width="2.3" stroke-linecap="butt"/>
<text x="47.5" y="661.2999999999998" font-size="12.6" text-anchor="end">120</text>
<line x1="57.4" y1="933.8" x2="57.4" y2="940.4" stroke="#000" stroke-width="2.3" stroke-linecap="butt"/>
<text x="57.4" y="955.2" font-size="12.6" text-anchor="middle">44</text>
<line x1="116.64" y1="933.8" x2="116.64" y2="940.4" stroke="#000" stroke-width="2.3" stroke-linecap="butt"/>
<text x="116.64" y="955.2" font-size="12.6" text-anchor="middle">48</text>
<line x1="175.88" y1="933.8" x2="175.88" y2="940.4" stroke="#000" stroke-width="2.3" stroke-linecap="butt"/>
<text x="175.88" y="955.2" font-size="12.6" text-anchor="middle">52</text>
<line x1="235.12" y1="933.8" x2="235.12" y2="940.4" stroke="#000" stroke-width="2.3" stroke-linecap="butt"/>
<text x="235.12" y="955.2" font-size="12.6" text-anchor="middle">56</text>
<line x1="294.36" y1="933.8" x2="294.36" y2="940.4" stroke="#000" stroke-width="2.3" stroke-linecap="butt"/>
<text x="294.36" y="955.2" font-size="12.6" text-anchor="middle">60</text>
<line x1="353.59999999999997" y1="933.8" x2="353.59999999999997" y2="940.4" stroke="#000" stroke-width="2.3" stroke-linecap="butt"/>
<text x="353.59999999999997" y="955.2" font-size="12.6" text-anchor="middle">64</text>
<line x1="412.84" y1="933.8" x2="412.84" y2="940.4" stroke="#000" stroke-width="2.3" stroke-linecap="butt"/>
<text x="412.84" y="955.2" font-size="12.6" text-anchor="middle">68</text>
<text x="235.1" y="988.2" font-size="16" text-anchor="middle" textLength="131.5" lengthAdjust="spacingAndGlyphs">Temperature (˚C)</text>
<text x="0" y="0" font-size="16" text-anchor="middle" textLength="200" lengthAdjust="spacingAndGlyphs" transform="translate(16.1,796.9) rotate(-90)">Relative Band Intensity (%)</text>
<polyline points="72.2,703.0 101.8,693.6 131.4,706.3 161.1,713.0 190.7,727.5 220.3,727.3 249.9,722.7 279.6,795.3 309.2,850.7 338.8,911.2 368.4,914.0 398.0,906.6" fill="none" stroke="#f00" stroke-width="5.3" stroke-linejoin="round"/>
<line x1="190.69" y1="718" x2="190.69" y2="747.6" stroke="#f00" stroke-width="5" stroke-linecap="butt"/>
<line x1="309.17" y1="835.3" x2="309.17" y2="866.1" stroke="#f00" stroke-width="5" stroke-linecap="butt"/>
<line x1="398.03" y1="891.1" x2="398.03" y2="913" stroke="#f00" stroke-width="5" stroke-linecap="butt"/>
<circle cx="72.2" cy="703.0" r="7" fill="#fff" stroke="#f00" stroke-width="4.1"/>
<circle cx="101.8" cy="693.6" r="7" fill="#fff" stroke="#f00" stroke-width="4.1"/>
<circle cx="131.4" cy="706.3" r="7" fill="#fff" stroke="#f00" stroke-width="4.1"/>
<circle cx="161.1" cy="713.0" r="7" fill="#fff" stroke="#f00" stroke-width="4.1"/>
<circle cx="190.7" cy="727.5" r="7" fill="#fff" stroke="#f00" stroke-width="4.1"/>
<circle cx="220.3" cy="727.3" r="7" fill="#fff" stroke="#f00" stroke-width="4.1"/>
<circle cx="249.9" cy="722.7" r="7" fill="#fff" stroke="#f00" stroke-width="4.1"/>
<circle cx="279.6" cy="795.3" r="7" fill="#fff" stroke="#f00" stroke-width="4.1"/>
<circle cx="309.2" cy="850.7" r="7" fill="#fff" stroke="#f00" stroke-width="4.1"/>
<circle cx="338.8" cy="911.2" r="7" fill="#fff" stroke="#f00" stroke-width="4.1"/>
<circle cx="368.4" cy="914.0" r="7" fill="#fff" stroke="#f00" stroke-width="4.1"/>
<circle cx="398.0" cy="906.6" r="7" fill="#fff" stroke="#f00" stroke-width="4.1"/>
<polyline points="72.2,703.0 101.8,704.9 131.4,711.6 161.1,703.3 190.7,714.1 220.3,732.4 249.9,837.8 279.6,895.3 309.2,911.0 338.8,913.7 368.4,918.8 398.0,924.8" fill="none" stroke="#000" stroke-width="5.3" stroke-linejoin="round"/>
<line x1="161.07" y1="689.3" x2="161.07" y2="717.2" stroke="#000" stroke-width="5" stroke-linecap="butt"/>
<line x1="190.69" y1="702.2" x2="190.69" y2="725.4" stroke="#000" stroke-width="5" stroke-linecap="butt"/>
<line x1="220.31" y1="711.3" x2="220.31" y2="753.5" stroke="#000" stroke-width="5" stroke-linecap="butt"/>
<line x1="249.93" y1="816.3" x2="249.93" y2="858.3" stroke="#000" stroke-width="5" stroke-linecap="butt"/>
<line x1="131.45" y1="701.3" x2="131.45" y2="722.6" stroke="#000" stroke-width="5" stroke-linecap="butt"/>
<circle cx="72.2" cy="703.0" r="7" fill="#fff" stroke="#000" stroke-width="4.1"/>
<circle cx="101.8" cy="704.9" r="7" fill="#fff" stroke="#000" stroke-width="4.1"/>
<circle cx="131.4" cy="711.6" r="7" fill="#fff" stroke="#000" stroke-width="4.1"/>
<circle cx="161.1" cy="703.3" r="7" fill="#fff" stroke="#000" stroke-width="4.1"/>
<circle cx="190.7" cy="714.1" r="7" fill="#fff" stroke="#000" stroke-width="4.1"/>
<circle cx="220.3" cy="732.4" r="7" fill="#fff" stroke="#000" stroke-width="4.1"/>
<circle cx="249.9" cy="837.8" r="7" fill="#fff" stroke="#000" stroke-width="4.1"/>
<circle cx="279.6" cy="895.3" r="7" fill="#fff" stroke="#000" stroke-width="4.1"/>
<circle cx="309.2" cy="911.0" r="7" fill="#fff" stroke="#000" stroke-width="4.1"/>
<circle cx="338.8" cy="913.7" r="7" fill="#fff" stroke="#000" stroke-width="4.1"/>
<circle cx="368.4" cy="918.8" r="7" fill="#fff" stroke="#000" stroke-width="4.1"/>
<circle cx="398.0" cy="924.8" r="7" fill="#fff" stroke="#000" stroke-width="4.1"/>
<line x1="270.7" y1="708.4" x2="273.70" y2="708.40" stroke="#f00" stroke-width="1.7"/><circle cx="273.70" cy="708.40" r="1.35" fill="#f00"/><line x1="270.7" y1="708.4" x2="271.63" y2="705.55" stroke="#f00" stroke-width="1.7"/><circle cx="271.63" cy="705.55" r="1.35" fill="#f00"/><line x1="270.7" y1="708.4" x2="268.27" y2="706.64" stroke="#f00" stroke-width="1.7"/><circle cx="268.27" cy="706.64" r="1.35" fill="#f00"/><line x1="270.7" y1="708.4" x2="268.27" y2="710.16" stroke="#f00" stroke-width="1.7"/><circle cx="268.27" cy="710.16" r="1.35" fill="#f00"/><line x1="270.7" y1="708.4" x2="271.63" y2="711.25" stroke="#f00" stroke-width="1.7"/><circle cx="271.63" cy="711.25" r="1.35" fill="#f00"/>
<line x1="270.7" y1="719.1" x2="273.70" y2="719.10" stroke="#f00" stroke-width="1.7"/><circle cx="273.70" cy="719.10" r="1.35" fill="#f00"/><line x1="270.7" y1="719.1" x2="271.63" y2="716.25" stroke="#f00" stroke-width="1.7"/><circle cx="271.63" cy="716.25" r="1.35" fill="#f00"/><line x1="270.7" y1="719.1" x2="268.27" y2="717.34" stroke="#f00" stroke-width="1.7"/><circle cx="268.27" cy="717.34" r="1.35" fill="#f00"/><line x1="270.7" y1="719.1" x2="268.27" y2="720.86" stroke="#f00" stroke-width="1.7"/><circle cx="268.27" cy="720.86" r="1.35" fill="#f00"/><line x1="270.7" y1="719.1" x2="271.63" y2="721.95" stroke="#f00" stroke-width="1.7"/><circle cx="271.63" cy="721.95" r="1.35" fill="#f00"/>
<line x1="295.7" y1="770.2" x2="298.70" y2="770.20" stroke="#f00" stroke-width="1.7"/><circle cx="298.70" cy="770.20" r="1.35" fill="#f00"/><line x1="295.7" y1="770.2" x2="296.63" y2="767.35" stroke="#f00" stroke-width="1.7"/><circle cx="296.63" cy="767.35" r="1.35" fill="#f00"/><line x1="295.7" y1="770.2" x2="293.27" y2="768.44" stroke="#f00" stroke-width="1.7"/><circle cx="293.27" cy="768.44" r="1.35" fill="#f00"/><line x1="295.7" y1="770.2" x2="293.27" y2="771.96" stroke="#f00" stroke-width="1.7"/><circle cx="293.27" cy="771.96" r="1.35" fill="#f00"/><line x1="295.7" y1="770.2" x2="296.63" y2="773.05" stroke="#f00" stroke-width="1.7"/><circle cx="296.63" cy="773.05" r="1.35" fill="#f00"/>
<line x1="295.7" y1="780.7" x2="298.70" y2="780.70" stroke="#f00" stroke-width="1.7"/><circle cx="298.70" cy="780.70" r="1.35" fill="#f00"/><line x1="295.7" y1="780.7" x2="296.63" y2="777.85" stroke="#f00" stroke-width="1.7"/><circle cx="296.63" cy="777.85" r="1.35" fill="#f00"/><line x1="295.7" y1="780.7" x2="293.27" y2="778.94" stroke="#f00" stroke-width="1.7"/><circle cx="293.27" cy="778.94" r="1.35" fill="#f00"/><line x1="295.7" y1="780.7" x2="293.27" y2="782.46" stroke="#f00" stroke-width="1.7"/><circle cx="293.27" cy="782.46" r="1.35" fill="#f00"/><line x1="295.7" y1="780.7" x2="296.63" y2="783.55" stroke="#f00" stroke-width="1.7"/><circle cx="296.63" cy="783.55" r="1.35" fill="#f00"/>
<line x1="324.5" y1="829" x2="327.50" y2="829.00" stroke="#f00" stroke-width="1.7"/><circle cx="327.50" cy="829.00" r="1.35" fill="#f00"/><line x1="324.5" y1="829" x2="325.43" y2="826.15" stroke="#f00" stroke-width="1.7"/><circle cx="325.43" cy="826.15" r="1.35" fill="#f00"/><line x1="324.5" y1="829" x2="322.07" y2="827.24" stroke="#f00" stroke-width="1.7"/><circle cx="322.07" cy="827.24" r="1.35" fill="#f00"/><line x1="324.5" y1="829" x2="322.07" y2="830.76" stroke="#f00" stroke-width="1.7"/><circle cx="322.07" cy="830.76" r="1.35" fill="#f00"/><line x1="324.5" y1="829" x2="325.43" y2="831.85" stroke="#f00" stroke-width="1.7"/><circle cx="325.43" cy="831.85" r="1.35" fill="#f00"/>
<line x1="324.5" y1="839.4" x2="327.50" y2="839.40" stroke="#f00" stroke-width="1.7"/><circle cx="327.50" cy="839.40" r="1.35" fill="#f00"/><line x1="324.5" y1="839.4" x2="325.43" y2="836.55" stroke="#f00" stroke-width="1.7"/><circle cx="325.43" cy="836.55" r="1.35" fill="#f00"/><line x1="324.5" y1="839.4" x2="322.07" y2="837.64" stroke="#f00" stroke-width="1.7"/><circle cx="322.07" cy="837.64" r="1.35" fill="#f00"/><line x1="324.5" y1="839.4" x2="322.07" y2="841.16" stroke="#f00" stroke-width="1.7"/><circle cx="322.07" cy="841.16" r="1.35" fill="#f00"/><line x1="324.5" y1="839.4" x2="325.43" y2="842.25" stroke="#f00" stroke-width="1.7"/><circle cx="325.43" cy="842.25" r="1.35" fill="#f00"/>
<line x1="89.3" y1="851.8" x2="114.2" y2="851.8" stroke="#000" stroke-width="4.6" stroke-linecap="butt"/>
<circle cx="101.8" cy="851.8" r="7" fill="#fff" stroke="#000" stroke-width="4.1"/>
<line x1="89.3" y1="878.7" x2="114.2" y2="878.7" stroke="#f00" stroke-width="4.6" stroke-linecap="butt"/>
<circle cx="101.8" cy="878.7" r="7" fill="#fff" stroke="#f00" stroke-width="4.1"/>
<text x="135" y="859" font-size="16" textLength="60.5" lengthAdjust="spacingAndGlyphs">Control</text>
<text x="135.8" y="886.4" font-size="16" textLength="35.5" lengthAdjust="spacingAndGlyphs" fill="#f00" style="stroke:#f00">BAZ</text>
<text x="467.1" y="657.8" font-size="25">F</text>
<rect x="515.5" y="657.2" width="255" height="279" fill="none" stroke="#000" stroke-width="2.3"/>
<line x1="511.6" y1="936.2" x2="515.5" y2="936.2" stroke="#000" stroke-width="2.3" stroke-linecap="butt"/>
<text x="508.6" y="940.6" font-size="12.6" text-anchor="end">0</text>
<line x1="511.6" y1="889.7" x2="515.5" y2="889.7" stroke="#000" stroke-width="2.3" stroke-linecap="butt"/>
<text x="508.6" y="894.1" font-size="12.6" text-anchor="end">20</text>
<line x1="511.6" y1="843.2" x2="515.5" y2="843.2" stroke="#000" stroke-width="2.3" stroke-linecap="butt"/>
<text x="508.6" y="847.6" font-size="12.6" text-anchor="end">40</text>
<line x1="511.6" y1="796.7" x2="515.5" y2="796.7" stroke="#000" stroke-width="2.3" stroke-linecap="butt"/>
<text x="508.6" y="801.1" font-size="12.6" text-anchor="end">60</text>
<line x1="511.6" y1="750.2" x2="515.5" y2="750.2" stroke="#000" stroke-width="2.3" stroke-linecap="butt"/>
<text x="508.6" y="754.6" font-size="12.6" text-anchor="end">80</text>
<line x1="511.6" y1="703.7" x2="515.5" y2="703.7" stroke="#000" stroke-width="2.3" stroke-linecap="butt"/>
<text x="508.6" y="708.1" font-size="12.6" text-anchor="end">100</text>
<line x1="511.6" y1="657.2" x2="515.5" y2="657.2" stroke="#000" stroke-width="2.3" stroke-linecap="butt"/>
<text x="508.6" y="661.6" font-size="12.6" text-anchor="end">120</text>
<line x1="527.0" y1="936.2" x2="527.0" y2="940.3" stroke="#000" stroke-width="2.3" stroke-linecap="butt"/>
<text x="530.1" y="950.4" font-size="13" text-anchor="end" transform="rotate(-45 530.1 950.4)">0</text>
<line x1="550.2" y1="936.2" x2="550.2" y2="940.3" stroke="#000" stroke-width="2.3" stroke-linecap="butt"/>
<text x="553.3000000000001" y="950.4" font-size="13" text-anchor="end" transform="rotate(-45 553.3000000000001 950.4)">0.0625</text>
<line x1="573.4" y1="936.2" x2="573.4" y2="940.3" stroke="#000" stroke-width="2.3" stroke-linecap="butt"/>
<text x="576.5" y="950.4" font-size="13" text-anchor="end" transform="rotate(-45 576.5 950.4)">0.125</text>
<line x1="596.6" y1="936.2" x2="596.6" y2="940.3" stroke="#000" stroke-width="2.3" stroke-linecap="butt"/>
<text x="599.7" y="950.4" font-size="13" text-anchor="end" transform="rotate(-45 599.7 950.4)">0.25</text>
<line x1="619.8" y1="936.2" x2="619.8" y2="940.3" stroke="#000" stroke-width="2.3" stroke-linecap="butt"/>
<text x="622.9" y="950.4" font-size="13" text-anchor="end" transform="rotate(-45 622.9 950.4)">0.5</text>
<line x1="643.0" y1="936.2" x2="643.0" y2="940.3" stroke="#000" stroke-width="2.3" stroke-linecap="butt"/>
<text x="646.1" y="950.4" font-size="13" text-anchor="end" transform="rotate(-45 646.1 950.4)">1</text>
<line x1="666.2" y1="936.2" x2="666.2" y2="940.3" stroke="#000" stroke-width="2.3" stroke-linecap="butt"/>
<text x="669.3000000000001" y="950.4" font-size="13" text-anchor="end" transform="rotate(-45 669.3000000000001 950.4)">2</text>
<line x1="689.4" y1="936.2" x2="689.4" y2="940.3" stroke="#000" stroke-width="2.3" stroke-linecap="butt"/>
<text x="692.5" y="950.4" font-size="13" text-anchor="end" transform="rotate(-45 692.5 950.4)">4</text>
<line x1="712.6" y1="936.2" x2="712.6" y2="940.3" stroke="#000" stroke-width="2.3" stroke-linecap="butt"/>
<text x="715.7" y="950.4" font-size="13" text-anchor="end" transform="rotate(-45 715.7 950.4)">8</text>
<line x1="735.8" y1="936.2" x2="735.8" y2="940.3" stroke="#000" stroke-width="2.3" stroke-linecap="butt"/>
<text x="738.9" y="950.4" font-size="13" text-anchor="end" transform="rotate(-45 738.9 950.4)">16</text>
<line x1="759.0" y1="936.2" x2="759.0" y2="940.3" stroke="#000" stroke-width="2.3" stroke-linecap="butt"/>
<text x="762.1" y="950.4" font-size="13" text-anchor="end" transform="rotate(-45 762.1 950.4)">32</text>
<text x="655.2" y="986.9" font-size="16" text-anchor="middle" textLength="72.5" lengthAdjust="spacingAndGlyphs">BAZ (µM)</text>
<text x="0" y="0" font-size="16" text-anchor="middle" textLength="199.5" lengthAdjust="spacingAndGlyphs" transform="translate(475.3,795.2) rotate(-90)">Relative Band Intensity (%)</text>
<polyline points="527.1,868.6 549.8,867.8 573.1,873 596.8,869.1 619.8,874.6 643.1,862.2 666.2,835.3 689.5,778.9 712.5,751.7 735.5,714.5 758.8,703.7" fill="none" stroke="#0000bc" stroke-width="4.9" stroke-linejoin="round"/>
<line x1="527.1" y1="841.9" x2="527.1" y2="895.8" stroke="#0000bc" stroke-width="4.9" stroke-linecap="butt"/>
<line x1="573.1" y1="851.3" x2="573.1" y2="895.8" stroke="#0000bc" stroke-width="4.9" stroke-linecap="butt"/>
<line x1="596.8" y1="850.1" x2="596.8" y2="888.6" stroke="#0000bc" stroke-width="4.9" stroke-linecap="butt"/>
<line x1="619.8" y1="851.3" x2="619.8" y2="898.3" stroke="#0000bc" stroke-width="4.9" stroke-linecap="butt"/>
<line x1="643.1" y1="836" x2="643.1" y2="887.6" stroke="#0000bc" stroke-width="4.9" stroke-linecap="butt"/>
<line x1="666.2" y1="813.2" x2="666.2" y2="857.7" stroke="#0000bc" stroke-width="4.9" stroke-linecap="butt"/>
<line x1="689.5" y1="746.2" x2="689.5" y2="812.4" stroke="#0000bc" stroke-width="4.9" stroke-linecap="butt"/>
<line x1="712.5" y1="706.9" x2="712.5" y2="796.7" stroke="#0000bc" stroke-width="4.9" stroke-linecap="butt"/>
<line x1="735.5" y1="700.9" x2="735.5" y2="728.1" stroke="#0000bc" stroke-width="4.9" stroke-linecap="butt"/>
<circle cx="527.1" cy="868.6" r="7.1" fill="#fff" stroke="#0000bc" stroke-width="4.8"/>
<circle cx="549.8" cy="867.8" r="7.1" fill="#fff" stroke="#0000bc" stroke-width="4.8"/>
<circle cx="573.1" cy="873" r="7.1" fill="#fff" stroke="#0000bc" stroke-width="4.8"/>
<circle cx="596.8" cy="869.1" r="7.1" fill="#fff" stroke="#0000bc" stroke-width="4.8"/>
<circle cx="619.8" cy="874.6" r="7.1" fill="#fff" stroke="#0000bc" stroke-width="4.8"/>
<circle cx="643.1" cy="862.2" r="7.1" fill="#fff" stroke="#0000bc" stroke-width="4.8"/>
<circle cx="666.2" cy="835.3" r="7.1" fill="#fff" stroke="#0000bc" stroke-width="4.8"/>
<circle cx="689.5" cy="778.9" r="7.1" fill="#fff" stroke="#0000bc" stroke-width="4.8"/>
<circle cx="712.5" cy="751.7" r="7.1" fill="#fff" stroke="#0000bc" stroke-width="4.8"/>
<circle cx="735.5" cy="714.5" r="7.1" fill="#fff" stroke="#0000bc" stroke-width="4.8"/>
<circle cx="758.8" cy="703.7" r="7.1" fill="#fff" stroke="#0000bc" stroke-width="4.8"/>
</svg>
</body></html>
